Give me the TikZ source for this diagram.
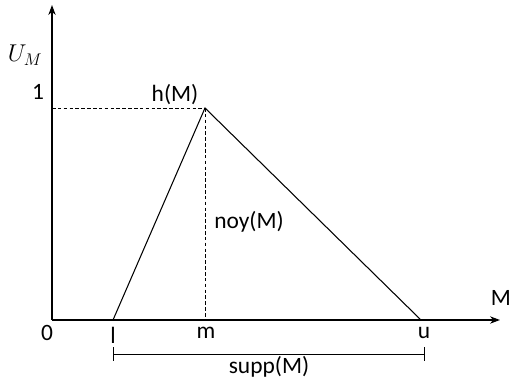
\documentclass[tikz,border=0pt]{standalone}
\usepackage{fontspec}
\setmainfont{Carlito}
\usepackage{tikz}
\usetikzlibrary{positioning,arrows.meta,calc}

\begin{document}
\begin{tikzpicture}[
    x=0.03cm, y=0.03cm,
    axis/.style={-{Stealth[length=3mm,width=2.2mm]}, line width=1.1pt},
    curve/.style={line width=0.9pt},
    guide/.style={dash pattern=on 3pt off 2pt, line width=0.8pt},
    lbl/.style={inner sep=0pt, font=\fontsize{20}{24}\selectfont},
    brace/.style={line width=0.8pt, {Bar[width=4mm]}-{Bar[width=4mm]}}
]
    \useasboundingbox (0,0) rectangle (512,381);
    % points
    \coordinate (o) at (52,61);
    \coordinate (ytip) at (52,376);
    \coordinate (xtip) at (500,61);
    \coordinate (l) at (113,61);
    \coordinate (m) at (205,61);
    \coordinate (u) at (421,61);
    \coordinate (peak) at (205,273);
    \coordinate (one) at (52,273);
    \coordinate (sl) at (113,27);
    \coordinate (su) at (425,27);

    % axes
    \draw[axis] (o) -- (xtip);
    \draw[axis] (o) -- (ytip);

    % triangle
    \draw[curve] (l) -- (peak) -- (u);
    \draw[guide] (one) -- (peak);
    \draw[guide] (peak) -- (m);

    % support
    \draw[brace] (sl) -- (su);

    % labels
    \node[lbl] (um) at (25,326) {$U_M$};
    \node[lbl] (n1) at (38,289) {1};
    \node[lbl] (hm) at (175,286) {h(M)};
    \node[lbl] (noy) at (249,159) {noy(M)};
    \node[lbl] (mx) at (501,83) {M};
    \node[lbl] (n0) at (47,48) {0};
    \node[lbl] (nl) at (113,46) {l};
    \node[lbl] (nm) at (206,48) {m};
    \node[lbl] (nu) at (424,48) {u};
    \node[lbl] (supp) at (269,14) {supp(M)};
\end{tikzpicture}
\end{document}
